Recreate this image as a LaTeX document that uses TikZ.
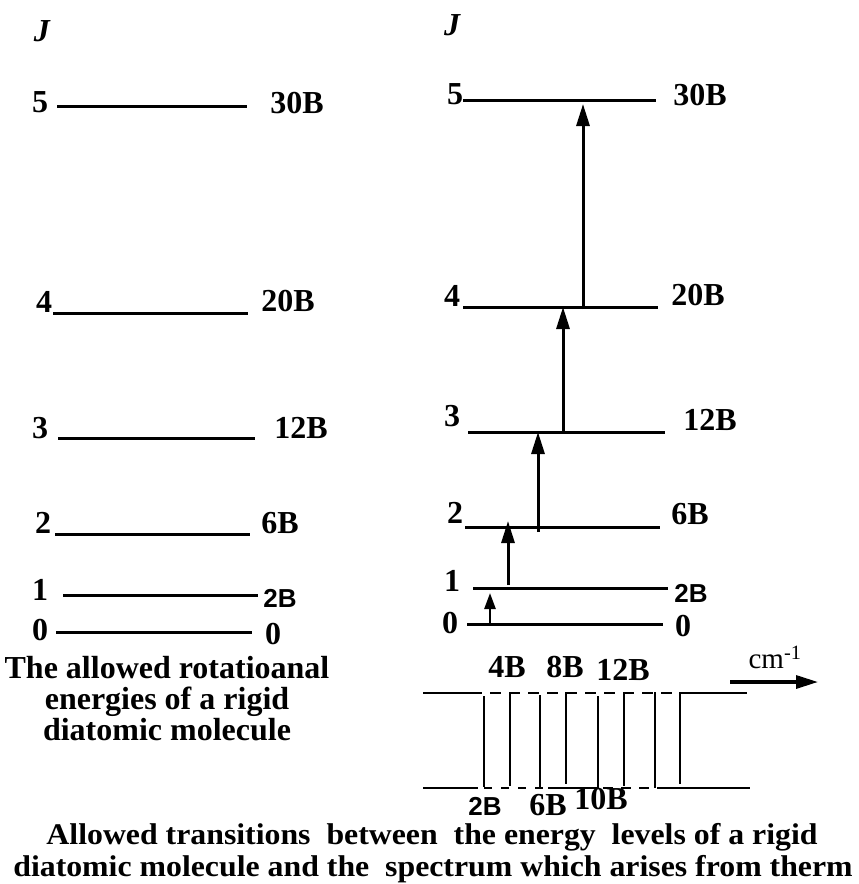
\documentclass[tikz,border=0pt]{standalone}
\usepackage{fontspec}
\setmainfont{Liberation Serif}
\newfontfamily\sansf{Liberation Sans}
\usetikzlibrary{arrows.meta}
\begin{document}
\begin{tikzpicture}[x=1pt,y=-1pt,
  lvl/.style={line width=3pt},
  lab/.style={font=\fontsize{32}{32}\selectfont\bfseries, inner sep=0pt},
  jlab/.style={font=\fontsize{32}{32}\selectfont\bfseries\itshape, inner sep=0pt},
  slab/.style={font=\fontsize{26}{26}\selectfont\sansf\bfseries, inner sep=0pt},
  captxt/.style={font=\fontsize{32}{31}\selectfont\bfseries, inner sep=0pt, align=center},
  bcap/.style={font=\fontsize{30}{30}\selectfont\bfseries, inner sep=0pt, anchor=base},
  trans/.style={line width=3pt,-{Triangle[length=22pt,width=13pt]}},
  specl/.style={line width=2.6pt},
  dsh/.style={line width=2.6pt, dash pattern=on 11pt off 8pt},
]
\useasboundingbox (0,0) rectangle (859,884);

% ---------- left diagram ----------
\node[jlab] (LJ) at (42,31) {J};
\node[lab] (L5n) at (40,102) {5};
\coordinate (L5a) at (57,106); \coordinate (L5b) at (247,106);
\draw[lvl] (L5a) -- (L5b);
\node[lab] (L5e) at (297,103) {30B};

\node[lab] (L4n) at (44,302) {4};
\coordinate (L4a) at (53,313); \coordinate (L4b) at (248,313);
\draw[lvl] (L4a) -- (L4b);
\node[lab] (L4e) at (288,301) {20B};

\node[lab] (L3n) at (40,428) {3};
\coordinate (L3a) at (58,438); \coordinate (L3b) at (255,438);
\draw[lvl] (L3a) -- (L3b);
\node[lab] (L3e) at (301,428) {12B};

\node[lab] (L2n) at (43,523) {2};
\coordinate (L2a) at (55,534); \coordinate (L2b) at (250,534);
\draw[lvl] (L2a) -- (L2b);
\node[lab] (L2e) at (280,523) {6B};

\node[lab] (L1n) at (40,590) {1};
\coordinate (L1a) at (63,595); \coordinate (L1b) at (258,595);
\draw[lvl] (L1a) -- (L1b);
\node[slab] (L1e) at (280,598) {2B};

\node[lab] (L0n) at (40,630) {0};
\coordinate (L0a) at (56,632); \coordinate (L0b) at (252,632);
\draw[lvl] (L0a) -- (L0b);
\node[lab] (L0e) at (273,634) {0};

\node[captxt] (Lcap) at (167,699) {The allowed rotatioanal\\energies of a rigid\\diatomic molecule};

% ---------- right diagram ----------
\node[jlab] (RJ) at (452,25) {J};
\node[lab] (R5n) at (455,94) {5};
\coordinate (R5a) at (463,100); \coordinate (R5b) at (656,100);
\draw[lvl] (R5a) -- (R5b);
\node[lab] (R5e) at (700,95) {30B};

\node[lab] (R4n) at (452,296) {4};
\coordinate (R4a) at (463,307); \coordinate (R4b) at (658,307);
\draw[lvl] (R4a) -- (R4b);
\node[lab] (R4e) at (698,295) {20B};

\node[lab] (R3n) at (452,416) {3};
\coordinate (R3a) at (468,432); \coordinate (R3b) at (665,432);
\draw[lvl] (R3a) -- (R3b);
\node[lab] (R3e) at (710,420) {12B};

\node[lab] (R2n) at (455,513) {2};
\coordinate (R2a) at (465,527); \coordinate (R2b) at (660,527);
\draw[lvl] (R2a) -- (R2b);
\node[lab] (R2e) at (690,514) {6B};

\node[lab] (R1n) at (452,581) {1};
\coordinate (R1a) at (473,588); \coordinate (R1b) at (668,588);
\draw[lvl] (R1a) -- (R1b);
\node[slab] (R1e) at (691,593) {2B};

\node[lab] (R0n) at (450,623) {0};
\coordinate (R0a) at (467,624); \coordinate (R0b) at (663,624);
\draw[lvl] (R0a) -- (R0b);
\node[lab] (R0e) at (683,626) {0};

% transitions
\coordinate (T01s) at (490,624); \coordinate (T01e) at (490,593);
\coordinate (T12s) at (508,585); \coordinate (T12e) at (508,521);
\coordinate (T23s) at (538,532); \coordinate (T23e) at (538,432);
\coordinate (T34s) at (563,433); \coordinate (T34e) at (563,307);
\coordinate (T45s) at (583,309); \coordinate (T45e) at (583,104);
\draw[trans,line width=2.6pt,-{Triangle[length=16pt,width=11pt]}] (T01s) -- (T01e);
\draw[trans] (T12s) -- (T12e);
\draw[trans] (T23s) -- (T23e);
\draw[trans] (T34s) -- (T34e);
\draw[trans] (T45s) -- (T45e);

% ---------- spectrum ----------
\coordinate (ST0) at (423,693); \coordinate (ST1) at (478,693);
\coordinate (ST2) at (688,693); \coordinate (ST3) at (747,693);
\draw[specl] (ST0) -- (ST1);
\draw[dsh, dash phase=-12pt] (ST1) -- (ST2);
\draw[specl] (ST2) -- (ST3);

\coordinate (SB0) at (423,788); \coordinate (SB1) at (478,788);
\coordinate (SB2) at (548,788); \coordinate (SB3) at (597,788);
\coordinate (SB4) at (662,788); \coordinate (SB5) at (750,788);
\draw[specl] (SB0) -- (SB1);
\draw[dsh, dash pattern=on 8pt off 9pt, dash phase=-6pt] (SB1) -- (SB2);
\draw[specl] (SB2) -- (SB3);
\draw[dsh, dash pattern=on 10pt off 8pt, dash phase=-6pt] (SB3) -- (SB4);
\draw[specl] (SB4) -- (SB5);

\foreach \x/\a/\b [count=\i] in {484/696/787, 510/692/786, 540/695/788, 566/692/784, 598/696/788, 624/692/786, 655/692/788, 680/692/784}{
  \coordinate (V\i a) at (\x,\a); \coordinate (V\i b) at (\x,\b);
  \draw[specl] (V\i a) -- (V\i b);
}

\node[lab] (S4) at (507,667) {4B};
\node[lab] (S8) at (565,667) {8B};
\node[lab] (S12) at (623,670) {12B};
\node[slab] (S2) at (485,806) {2B};
\node[lab] (S6) at (548,805) {6B};
\node[lab] (S10) at (601,799) {10B};

\node[font=\fontsize{29}{29}\selectfont, inner sep=0pt] (cm) at (775,657) {cm\textsuperscript{-1}};
\coordinate (Ca) at (730,682); \coordinate (Cb) at (818,682);
\draw[line width=3.2pt,-{Triangle[length=22pt,width=13pt]}] (Ca) -- (Cb);

\node[bcap] (Bcap1) at (432,844) {\scalebox{1.06}[1]{Allowed transitions\ \ between\ \ the energy\ \ levels of a rigid}};
\node[bcap] (Bcap2) at (433,876) {\scalebox{1.06}[1]{diatomic molecule and the\ \ spectrum which arises from therm}};
\end{tikzpicture}
\end{document}
